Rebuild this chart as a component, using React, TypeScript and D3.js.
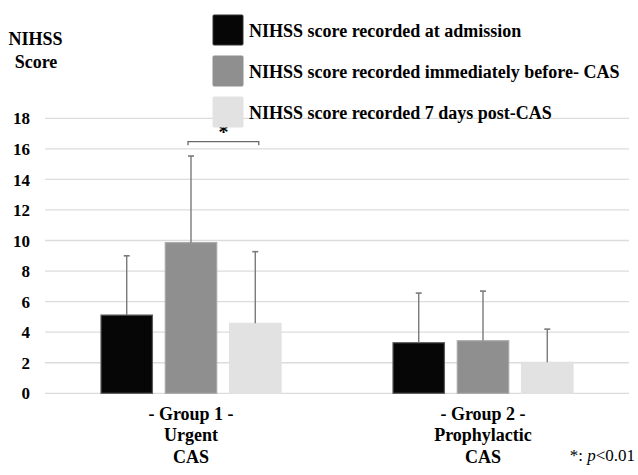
import React, { useEffect, useRef } from 'react';
import * as d3 from 'd3';

const groups = ['g1', 'g2'];
const groupLabels = [
  ['- Group 1 -', 'Urgent', 'CAS'],
  ['- Group 2 -', 'Prophylactic', 'CAS'],
];
const seriesKeys = ['admission', 'beforeCAS', 'post7'];
const seriesLabels = [
  'NIHSS score recorded at admission',
  'NIHSS score recorded immediately before- CAS',
  'NIHSS score recorded 7 days post-CAS',
];
const admission = [5.12, 3.31];
const beforeCAS = [9.86, 3.44];
const post7 = [4.58, 2.03];
const admissionErr = [3.88, 3.25];
const beforeCASErr = [5.67, 3.25];
const post7Err = [4.69, 2.17];
const yTicks = [0, 2, 4, 6, 8, 10, 12, 14, 16, 18];

const App = () => {
  const ref = useRef<SVGSVGElement>(null);

  useEffect(() => {
    const width = 638;
    const height = 475;
    const margin = { top: 118.3, right: 9, bottom: 81.7, left: 45 };
    const chartWidth = width - margin.left - margin.right;
    const chartHeight = height - margin.top - margin.bottom;
    const font = "'Liberation Serif', 'DejaVu Serif', serif";

    const root = d3.select(ref.current);
    root.selectAll('*').remove();

    const values = [admission, beforeCAS, post7];
    const errors = [admissionErr, beforeCASErr, post7Err];
    const fills = ['#060606', '#8f8f8f', '#e2e2e2'];
    const strokes = ['#5a5a5a', '#a8a8a8', '#e2e2e2'];

    const x0 = d3.scaleBand().domain(groups).range([0, chartWidth]).paddingInner(0).paddingOuter(0);
    const groupW = 180;
    const x1 = d3
      .scaleBand()
      .domain(seriesKeys)
      .range([(x0.bandwidth() - groupW) / 2, (x0.bandwidth() + groupW) / 2])
      .paddingInner(0.2);
    const y = d3.scaleLinear().domain([0, 18]).range([chartHeight, 0]);

    const svg = root.append('g').attr('transform', `translate(${margin.left},${margin.top})`);

    // grid
    svg
      .append('g')
      .selectAll('line')
      .data(yTicks)
      .join('line')
      .attr('x1', 0)
      .attr('x2', chartWidth)
      .attr('y1', d => y(d))
      .attr('y2', d => y(d))
      .attr('stroke', '#dcdcdc')
      .attr('stroke-width', 1.3);

    // y tick labels
    svg
      .append('g')
      .selectAll('text')
      .data(yTicks)
      .join('text')
      .attr('x', -15)
      .attr('y', d => y(d))
      .attr('dy', '0.36em')
      .attr('text-anchor', 'end')
      .attr('font-family', font)
      .attr('font-weight', 'bold')
      .attr('font-size', 17)
      .text(d => d);

    // bars
    groups.forEach((g, gi) => {
      const gx = x0(g)!;
      seriesKeys.forEach((k, si) => {
        const v = values[si][gi];
        const bx = gx + x1(k)!;
        const bw = x1.bandwidth();
        svg
          .append('rect')
          .attr('x', bx)
          .attr('y', y(v))
          .attr('width', bw)
          .attr('height', chartHeight - y(v))
          .attr('fill', fills[si])
          .attr('stroke', strokes[si])
          .attr('stroke-width', 1.2);
        const cx = bx + bw / 2;
        const top = y(v + errors[si][gi]);
        svg
          .append('line')
          .attr('x1', cx)
          .attr('x2', cx)
          .attr('y1', y(v))
          .attr('y2', top)
          .attr('stroke', '#7a7a7a')
          .attr('stroke-width', 1.4);
        svg
          .append('line')
          .attr('x1', cx - 3)
          .attr('x2', cx + 3)
          .attr('y1', top)
          .attr('y2', top)
          .attr('stroke', '#7a7a7a')
          .attr('stroke-width', 1.6);
      });

      // category labels
      const lx = gx + x0.bandwidth() / 2;
      const lbl = svg
        .append('text')
        .attr('text-anchor', 'middle')
        .attr('font-family', font)
        .attr('font-weight', 'bold')
        .attr('font-size', 18);
      groupLabels[gi].forEach((t, li) => {
        lbl
          .append('tspan')
          .attr('x', lx)
          .attr('y', chartHeight + 26.7 + li * 21.5)
          .text(t);
      });
    });

    // significance bracket between group1 before-CAS and post-CAS
    const b1 = x0('g1')! + x1('beforeCAS')! + x1.bandwidth() / 2 - 3;
    const b2 = x0('g1')! + x1('post7')! + x1.bandwidth() / 2 + 3.5;
    const by = y(16.47);
    svg
      .append('path')
      .attr('d', `M${b1},${by + 3.5}V${by}H${b2}V${by + 3.5}`)
      .attr('fill', 'none')
      .attr('stroke', '#6a6a6a')
      .attr('stroke-width', 1.3);
    svg
      .append('text')
      .attr('x', (b1 + b2) / 2)
      .attr('y', by - 3)
      .attr('text-anchor', 'middle')
      .attr('font-family', font)
      .attr('font-weight', 'bold')
      .attr('font-size', 20)
      .text('*');

    // y title
    const yt = root
      .append('text')
      .attr('text-anchor', 'middle')
      .attr('font-family', font)
      .attr('font-weight', 'bold')
      .attr('font-size', 18);
    yt.append('tspan').attr('x', 35.5).attr('y', 45).text('NIHSS');
    yt.append('tspan').attr('x', 36).attr('y', 68).text('Score');

    // legend
    const legend = root.append('g').attr('transform', 'translate(213,15)');
    seriesLabels.forEach((t, i) => {
      const row = legend.append('g').attr('transform', `translate(0,${i * 41})`);
      row
        .append('rect')
        .attr('width', 30)
        .attr('height', 30)
        .attr('rx', 1)
        .attr('fill', fills[i])
        .attr('stroke', i === 0 ? '#333' : fills[i]);
      row
        .append('text')
        .attr('x', 36)
        .attr('y', 21.6)
        .attr('font-family', font)
        .attr('font-weight', 'bold')
        .attr('font-size', 18)
        .text(t);
    });

    // footnote
    const fn = root
      .append('text')
      .attr('x', 635)
      .attr('y', 461)
      .attr('text-anchor', 'end')
      .attr('font-family', font)
      .attr('font-size', 17);
    fn.append('tspan').text('*: ');
    fn.append('tspan').attr('font-style', 'italic').text('p');
    fn.append('tspan').text('<0.01');
  }, []);

  return (
    <svg
      ref={ref}
      width={638}
      height={475}
      style={{ position: 'absolute', left: 0, top: 0, background: '#fff' }}
    />
  );
};

export default App;
